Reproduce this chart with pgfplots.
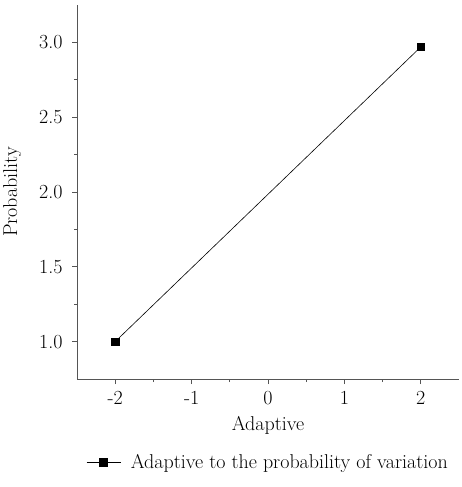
\documentclass[border=0pt]{standalone}
\usepackage{pgfplots}
\pgfplotsset{compat=1.18}
\definecolor{axisgray}{HTML}{555555}

\begin{document}
\begin{tikzpicture}
\begin{axis}[
  width=382pt,height=374pt,scale only axis,
  xmin=-2.5,xmax=2.5,ymin=0.75,ymax=3.25,
  axis x line*=bottom,axis y line*=left,
  axis line style={axisgray,line width=0.8pt},
  xtick={-2,-1,0,1,2},ytick={1,1.5,2,2.5,3},
  minor x tick num=1,minor y tick num=1,
  tick align=outside,
  major tick length=5pt,minor tick length=3pt,
  tick style={axisgray,line width=0.8pt},
  yticklabel style={/pgf/number format/fixed,/pgf/number format/fixed zerofill,/pgf/number format/precision=1},
  /pgf/number format/assume math mode=true,
  ticklabel style={font=\fontsize{20}{22}\selectfont},
  xticklabel style={yshift=-4pt},
  yticklabel style={xshift=-6pt},
  label style={font=\fontsize{20}{22}\selectfont},
  xlabel style={yshift=-4pt},
  ylabel style={yshift=11pt},
  xlabel={Adaptive},ylabel={Probability},
  legend style={draw=none,at={(0.5,-0.19)},anchor=north,font=\fontsize{20}{22}\selectfont,
    /tikz/every odd column/.append style={column sep=8pt}},
  legend image code/.code={\draw[mark repeat=2,mark phase=2,#1] plot coordinates {(0pt,0pt) (17pt,0pt) (34pt,0pt)};},
  legend cell align=left,
]
\addplot[black,line width=0.6pt,mark=square*,mark size=3.8pt] coordinates {(-2,1.0) (2,2.97)};
\addlegendentry{Adaptive to the probability of variation}
\end{axis}
\path (0,379pt) (0,-108pt) (384pt,0);
\end{tikzpicture}
\end{document}
